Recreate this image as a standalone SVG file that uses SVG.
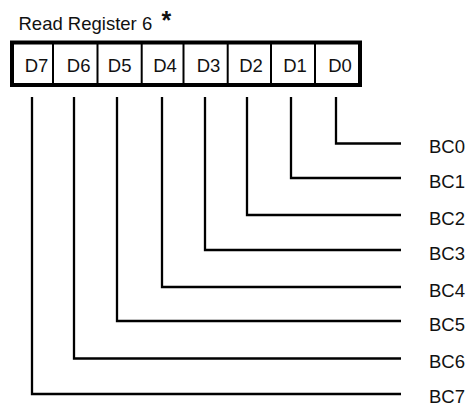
<svg xmlns="http://www.w3.org/2000/svg" width="469" height="405" viewBox="0 0 469 405">
<style>
text{font-family:"Liberation Sans",Arial,sans-serif;font-size:18.5px;fill:#111}
.cell{text-anchor:middle}
.wire{fill:none;stroke:#000;stroke-width:2.3}
.div{stroke:#000;stroke-width:2}
</style>
<rect width="469" height="405" fill="#fff"/>
<g id="title">
<text x="18.5" y="30">Read Register 6</text>
<text x="161.5" y="29" style="font-size:25px;font-weight:bold">*</text>
</g>
<g id="register">
<rect x="12" y="42.5" width="348" height="42.5" fill="#fff" stroke="#000" stroke-width="4"/>
<line class="div" x1="53" y1="44" x2="53" y2="83"/>
<line class="div" x1="97.5" y1="44" x2="97.5" y2="83"/>
<line class="div" x1="141.7" y1="44" x2="141.7" y2="83"/>
<line class="div" x1="183.5" y1="44" x2="183.5" y2="83"/>
<line class="div" x1="227.7" y1="44" x2="227.7" y2="83"/>
<line class="div" x1="271" y1="44" x2="271" y2="83"/>
<line class="div" x1="315" y1="44" x2="315" y2="83"/>
<text class="cell" x="36.5" y="72">D7</text>
<text class="cell" x="78.7" y="72">D6</text>
<text class="cell" x="119.7" y="72">D5</text>
<text class="cell" x="165" y="72">D4</text>
<text class="cell" x="208.5" y="72">D3</text>
<text class="cell" x="251" y="72">D2</text>
<text class="cell" x="295" y="72">D1</text>
<text class="cell" x="340" y="72">D0</text>
</g>
<g id="connectors">
<polyline class="wire" points="336,97 336,143.5 401,143.5"/>
<polyline class="wire" points="291,97 291,178 401,178"/>
<polyline class="wire" points="247,97 247,215 401,215"/>
<polyline class="wire" points="205,97 205,250 401,250"/>
<polyline class="wire" points="162,97 162,287 401,287"/>
<polyline class="wire" points="117,97 117,321 401,321"/>
<polyline class="wire" points="74,97 74,358.5 401,358.5"/>
<polyline class="wire" points="32,97 32,394 401,394"/>
</g>
<g id="labels">
<text x="429" y="153">BC0</text>
<text x="429" y="187.5">BC1</text>
<text x="429" y="224.5">BC2</text>
<text x="429" y="259.5">BC3</text>
<text x="429" y="296.5">BC4</text>
<text x="429" y="330.5">BC5</text>
<text x="429" y="368">BC6</text>
<text x="429" y="402.5">BC7</text>
</g>
</svg>
